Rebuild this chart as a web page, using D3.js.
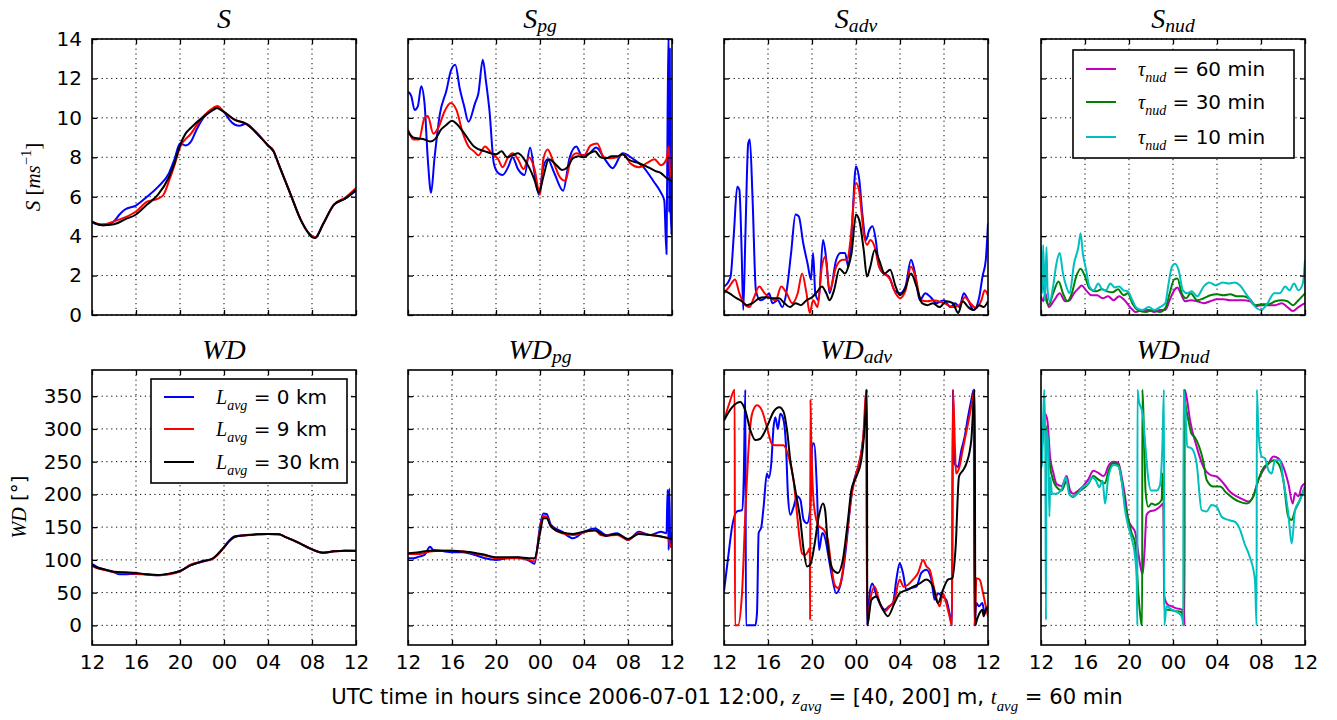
<!DOCTYPE html>
<html>
<head>
<meta charset="utf-8">
<script src="https://cdn.jsdelivr.net/npm/d3@7"></script>
<style>
  body { margin: 0; background: #fff; }
  svg { display: block; }
</style>
</head>
<body>
<svg id="chart" width="1337" height="720"></svg>
<script>
// x axis: hours since 2006-07-01 12:00
var hourTicks = [0, 4, 8, 12, 16, 20, 24];
var hourLabels = ["12", "16", "20", "00", "04", "08", "12"];
var speedTicks = [0, 2, 4, 6, 8, 10, 12, 14];
var dirTicks = [0, 50, 100, 150, 200, 250, 300, 350];

var titleBase = ["S", "S", "S", "S", "WD", "WD", "WD", "WD"];
var titleSub = ["", "pg", "adv", "nud", "", "pg", "adv", "nud"];

var lavgLabels = ["0 km", "9 km", "30 km"];
var tauLabels = ["60 min", "30 min", "10 min"];

// ---- S ----
var sBlue = [[0,4.7],[0.5,4.6],[1,4.55],[1.5,4.6],[2,4.75],[2.5,5.1],[3,5.35],[4,5.55],[5,6.0],[6,6.5],[7,7.2],[7.5,7.9],[8,8.7],[8.5,8.6],[9,8.8],[9.5,9.4],[10,9.9],[11,10.4],[11.4,10.5],[12,10.3],[12.5,9.9],[13,9.65],[13.4,9.6],[14,9.7],[15,9.2],[16,8.6],[16.5,8.3],[17,7.6],[18,6.2],[19,4.8],[19.5,4.3],[20,4.0],[20.3,3.95],[21,4.6],[22,5.6],[23,5.9],[24,6.3]];
var sRed = [[0,4.7],[1,4.6],[2,4.75],[3,4.95],[4,5.25],[5,5.75],[6,5.9],[6.5,6.1],[7,6.8],[7.5,7.6],[8,8.5],[9,9.2],[10,10],[11,10.5],[11.4,10.6],[12,10.3],[13,9.9],[14,9.7],[15,9.25],[16,8.6],[16.5,8.35],[17,7.6],[18,6.2],[19,4.8],[19.5,4.3],[20,4.0],[20.3,3.95],[21,4.6],[22,5.6],[23,5.95],[24,6.45]];
var sBlack = [[0,4.75],[0.5,4.6],[1,4.55],[2,4.6],[3,4.85],[4,5.1],[5,5.6],[6,6.1],[7,7.0],[7.5,7.7],[8,8.6],[8.5,9.2],[9,9.5],[10,10.0],[11,10.4],[11.3,10.5],[12,10.3],[13,9.9],[14,9.7],[15,9.2],[16,8.6],[16.5,8.3],[17,7.6],[18,6.2],[19,4.8],[19.5,4.3],[20,3.95],[20.3,3.9],[21,4.6],[22,5.6],[23,5.9],[24,6.35]];

// ---- S_pg ----
var spBlue = [[0,11.33],[0.3,11.1],[0.6,10.4],[0.9,10.6],[1.2,11.6],[1.5,10.75],[1.8,7.9],[2.1,6.2],[2.4,7.9],[2.9,10.2],[3.5,11.4],[3.9,12.4],[4.3,12.7],[4.7,11.5],[5.1,10.6],[5.5,9.8],[6.1,10.75],[6.4,11.25],[6.8,12.95],[7.1,11.8],[7.4,10.4],[7.8,7.7],[8.2,7.2],[8.6,7.1],[9.1,7.5],[9.5,8.0],[10,7.4],[10.6,7.1],[11.1,8.5],[11.5,7.2],[11.9,6.1],[12.3,7.5],[12.7,7.9],[13.3,7.2],[14.1,6.3],[14.7,8.0],[15.3,8.55],[15.8,8.1],[16.5,8.2],[17.1,8.5],[17.9,7.9],[18.6,7.45],[19.5,8.2],[20.5,7.9],[21.4,7.5],[22.3,6.8],[23,6.2],[23.3,5.8],[23.5,3.1],[23.6,10.2],[23.7,14.5],[23.75,5.2],[23.8,13.5],[23.85,6.2],[23.95,4.1],[24,7.5]];
var spRed = [[0,9.4],[0.5,8.9],[1,8.9],[1.5,10],[1.8,10.1],[2.3,9.2],[2.8,9.55],[3.3,10.3],[3.9,10.75],[4.4,10.4],[5,9.2],[5.5,8.55],[6,8.3],[6.4,8.1],[7,8.55],[7.6,8.2],[8.2,7.9],[8.6,7.5],[9.1,8.0],[9.5,8.2],[10,7.9],[10.5,7.4],[11,8.0],[11.5,7.4],[12,6.1],[12.3,7.9],[12.7,8.4],[13.2,7.8],[13.8,7.0],[14.3,6.8],[14.8,7.9],[15.3,8.2],[16,8.1],[16.6,8.6],[17.2,8.7],[17.8,8.0],[18.3,7.95],[19,8.0],[19.6,8.15],[20.2,7.7],[21,7.5],[21.7,7.7],[22.4,7.9],[23,7.6],[23.5,7.9],[23.7,8.55],[23.85,7.0],[24,7.5]];
var spBlack = [[0,9.3],[0.5,9.0],[1,8.95],[1.5,8.9],[2,8.8],[2.5,8.95],[3,9.4],[3.5,9.65],[4,9.85],[4.5,9.65],[5,9.3],[6,8.55],[7,8.3],[8,8.15],[8.5,8.3],[9,8.0],[9.5,8.1],[10,8.2],[10.5,7.95],[11,7.5],[11.5,6.85],[11.9,6.2],[12.3,7.0],[12.8,7.9],[13.5,7.6],[14,7.35],[14.5,7.5],[15,7.95],[15.5,8.05],[16,8.0],[16.5,8.2],[17,8.3],[17.5,8.0],[18,7.95],[18.5,8.05],[19,8.05],[19.5,8.15],[20,7.9],[21,7.7],[22,7.45],[22.5,7.3],[23,7.2],[23.5,6.95],[24,6.8]];

// ---- S_adv ----
var saBlue = [[0,1.45],[0.3,1.6],[0.6,1.95],[0.9,4.15],[1.2,6.5],[1.4,6.35],[1.6,3.3],[1.75,0.25],[1.95,4.15],[2.2,8.7],[2.35,8.9],[2.6,5.85],[2.9,1.25],[3.3,0.75],[3.8,0.9],[4.1,1.1],[4.4,0.6],[4.9,0.75],[5.3,0.4],[5.7,1.25],[6.1,3.15],[6.5,5.1],[6.8,5.0],[7.2,3.65],[7.6,2.6],[7.9,1.8],[8.1,3.15],[8.3,1.1],[8.6,0.75],[9.0,3.8],[9.3,2.8],[9.6,1.1],[10.2,2.8],[10.6,3.15],[11.0,3.15],[11.3,2.45],[11.6,4.15],[12.0,7.55],[12.3,6.85],[12.6,5.0],[12.9,3.8],[13.2,4.3],[13.5,4.5],[13.8,3.8],[14.1,2.45],[14.5,2.1],[15.0,1.95],[15.5,1.25],[16.0,1.1],[16.5,1.45],[17.0,2.8],[17.3,2.3],[17.8,0.75],[18.3,1.1],[18.8,0.9],[19.3,0.6],[20,0.75],[20.6,0.4],[21,0.6],[21.4,0.4],[21.8,1.1],[22.2,0.75],[22.7,0.25],[23.2,0.9],[23.5,1.95],[23.8,2.8],[24,4.65]];
var saRed = [[0,1.1],[0.5,1.45],[1.0,1.8],[1.4,1.1],[1.8,0.6],[2.3,0.4],[2.7,0.85],[3.2,1.45],[3.7,1.1],[4.1,0.9],[4.7,0.75],[5.2,1.45],[5.7,1.1],[6.2,0.6],[6.7,1.1],[7.1,2.1],[7.5,1.1],[7.8,0.1],[8.1,0.75],[8.5,0.4],[8.9,2.45],[9.2,2.95],[9.6,1.25],[10.2,2.45],[10.8,2.8],[11.2,2.8],[11.5,3.8],[12.0,6.7],[12.3,6.25],[12.7,4.15],[13.0,3.55],[13.3,3.8],[13.7,3.45],[14.1,2.45],[14.6,2.1],[15.1,1.8],[15.6,1.1],[16.0,0.85],[16.5,1.25],[17.0,2.45],[17.4,1.95],[17.9,0.75],[18.5,0.7],[19,0.75],[20,0.6],[20.8,0.4],[21.4,0.5],[21.9,0.9],[22.4,0.6],[22.9,0.35],[23.4,0.75],[23.7,1.25],[24,1.0]];
var saBlack = [[0,1.25],[0.5,1.1],[1.0,0.9],[1.6,0.7],[2.1,0.5],[2.6,0.6],[3.2,0.85],[3.8,0.9],[4.4,0.85],[5.0,0.85],[5.5,0.6],[6.0,0.4],[6.5,0.6],[7.0,0.5],[7.5,0.75],[8.0,0.9],[8.5,1.2],[8.9,1.45],[9.3,1.1],[9.6,0.75],[10.0,1.25],[10.5,2.35],[11.0,2.1],[11.3,2.45],[11.6,3.15],[12.0,5.1],[12.3,4.8],[12.7,3.3],[13.0,1.95],[13.3,2.45],[13.7,3.3],[14.1,2.8],[14.6,2.1],[15.1,2.3],[15.6,1.45],[16.0,1.0],[16.4,1.25],[17.0,2.1],[17.5,1.45],[18.0,0.6],[18.5,0.5],[19,0.6],[19.6,0.4],[20.2,0.7],[20.8,0.6],[21.3,0.1],[21.7,0.7],[22.2,0.4],[22.7,0.25],[23.2,0.5],[23.6,0.4],[24,0.7]];

// ---- S_nud ----
var snM = [[0,0.95],[0.2,0.7],[0.4,1.1],[0.7,0.4],[1.2,0.75],[1.7,1.1],[2.2,0.7],[2.6,0.75],[3.0,1.1],[3.4,1.35],[3.7,1.5],[4.1,1.25],[4.6,1.0],[5.1,1.0],[5.6,0.85],[6.1,0.95],[6.6,0.75],[7.1,0.95],[7.6,0.75],[8.1,0.4],[8.6,0.15],[9.2,0.25],[9.8,0.25],[10.3,0.15],[10.8,0.25],[11.3,0.25],[11.7,0.75],[12.1,1.25],[12.4,1.4],[12.7,1.1],[13.1,0.7],[13.6,0.75],[14.2,0.7],[14.8,0.6],[15.4,0.7],[16.0,0.8],[16.6,0.8],[17.2,0.75],[17.8,0.75],[18.4,0.75],[19,0.7],[19.5,0.45],[20.1,0.5],[20.7,0.5],[21.3,0.5],[21.9,0.6],[22.4,0.4],[22.9,0.2],[23.4,0.4],[24,0.6]];
var snG = [[0,1.25],[0.2,1.5],[0.4,0.9],[0.7,0.5],[1.1,1.1],[1.6,1.7],[2.0,1.1],[2.4,0.7],[2.8,1.1],[3.2,1.95],[3.6,2.35],[4.0,1.95],[4.4,1.35],[5.0,1.2],[5.5,1.3],[6.0,1.2],[6.5,1.15],[7.0,1.3],[7.5,1.0],[7.9,1.1],[8.3,0.6],[8.8,0.25],[9.5,0.15],[10.2,0.25],[10.8,0.15],[11.3,0.35],[11.7,1.1],[12.1,1.8],[12.4,1.85],[12.8,1.1],[13.2,0.85],[13.6,1.1],[14.2,0.75],[14.8,0.85],[15.4,1.0],[16.0,1.05],[16.6,1.0],[17.2,1.05],[17.8,0.95],[18.4,0.95],[19,0.8],[19.5,0.5],[20.1,0.55],[20.7,0.55],[21.3,0.7],[21.9,0.75],[22.4,0.7],[22.9,0.5],[23.4,0.75],[24,1.1]];
var snC = [[0,3.45],[0.1,1.1],[0.2,3.55],[0.35,0.75],[0.5,3.45],[0.6,1.25],[0.8,0.7],[1.1,1.45],[1.4,2.6],[1.7,3.15],[2.0,2.1],[2.3,1.45],[2.6,1.1],[3.0,2.6],[3.4,3.45],[3.6,4.15],[3.8,3.15],[4.1,2.3],[4.4,1.45],[4.8,1.25],[5.2,1.6],[5.5,1.35],[5.9,1.25],[6.3,1.6],[6.7,1.4],[7.1,1.45],[7.5,1.25],[7.9,1.2],[8.3,0.75],[8.7,0.35],[9.2,0.25],[9.8,0.4],[10.3,0.25],[10.8,0.4],[11.3,0.6],[11.6,1.6],[11.9,2.45],[12.2,2.6],[12.5,2.3],[12.9,1.25],[13.3,1.1],[13.7,1.2],[14.2,0.95],[14.8,1.45],[15.3,1.65],[15.9,1.5],[16.5,1.65],[17.1,1.6],[17.6,1.65],[18.1,1.5],[18.6,1.1],[19.1,0.7],[19.5,0.4],[20.0,0.25],[20.6,0.6],[21.2,1.1],[21.7,1.1],[22.2,1.45],[22.6,1.25],[23.0,1.6],[23.4,1.25],[23.8,1.6],[24,2.8]];

// ---- WD ----
var wdBlue = [[0,94],[0.5,89],[1,86],[2,81],[2.5,78],[3,78],[4,78.5],[5,77.5],[6,76.5],[7,78.5],[8,83],[9,92],[10,98],[11,102],[11.5,110],[12,120],[12.5,130],[13,136],[14,138],[15,139],[16,139.5],[17,139],[17.5,135.5],[18,132],[19,124],[20,116],[21,111],[22,113],[23,114],[24,113.5]];
var wdRed = [[0,91],[0.5,87],[1,85],[2,81.5],[3,80],[4,79],[5,77.5],[6,76.5],[7,78],[8,82],[9,93],[10,97],[11,102],[11.5,109],[12,119],[12.5,129],[13,135],[14,137.5],[15,139],[16,139.5],[17,139],[17.5,135.5],[18,132],[19,124.5],[20,116],[21,111],[22,113],[23,114],[24,114]];
var wdBlack = [[0,92.5],[0.5,88],[1,86],[2,82],[3,81],[4,80],[5,78],[6,77],[7,79],[8,83],[9,92],[10,97.5],[11,102.5],[11.5,110],[12,119],[12.5,129],[13,135.6],[14,137.7],[15,139],[16,139.7],[17,139],[17.5,135.6],[18,132],[19,124.5],[20,116],[21,111],[22,113],[23,114],[24,113.8]];

// ---- WD_pg ----
var wpBlue = [[0,102.6],[0.5,102.6],[1,105],[1.5,107.7],[2,120],[2.3,115],[3,113.8],[4,111.8],[5,111.8],[6,107.7],[7,102.6],[8,100],[9,102.6],[10,103.6],[11,99],[11.5,94],[12,151],[12.3,171],[12.6,170],[13,153.4],[14,143],[15,133],[16,143],[17,148],[17.5,143],[18,138],[19,140.7],[20,130.5],[21,143],[22,138],[23,143],[23.5,140.7],[23.6,206.7],[23.7,115],[23.75,209],[23.85,120],[23.95,141],[24,125]];
var wpRed = [[0,109],[1,109],[2,112.8],[3,113.8],[4,113.8],[5,112.8],[6,110],[7,106.7],[8,102.6],[9,102.6],[10,102.6],[11,100],[11.5,97.5],[12,145.8],[12.3,167],[12.6,166],[13,151],[14,140.7],[15,138],[16,142],[17,145.8],[17.5,138],[18,137],[19,138],[20,130.5],[21,140.7],[22,138],[23,135.6],[23.7,133],[23.85,120],[24,125]];
var wpBlack = [[0,110],[1,111.8],[2,114],[3,113.8],[4,113.8],[5,112.8],[6,111],[7,107.7],[8,104],[9,104],[10,104],[11,102.6],[11.5,102.6],[12,140.7],[12.3,163.6],[12.6,163.6],[13,151],[14,141.7],[15,139.7],[16,143],[17,144.8],[17.5,140.7],[18,136.6],[19,139.7],[20,132],[21,139.7],[22,138],[23,135.6],[24,131.6]];

// ---- WD_adv ----
var waBlue = [[0,52],[0.42,110],[0.73,150],[1.18,174],[1.64,176],[1.79,221],[1.94,360],[2.0,0],[2.85,0],[3.0,19],[3.15,141],[3.39,150],[3.6,181],[3.9,232],[4.06,225],[4.3,248],[4.5,302],[4.67,318],[4.9,300],[5.12,323],[5.42,313],[5.64,272],[5.82,197],[6.03,169],[6.33,181],[6.64,197],[6.94,192],[7.24,161],[7.55,156],[7.85,181],[8.0,272],[8.18,278],[8.45,207],[8.64,115],[8.94,141],[9.24,130],[9.45,110],[9.76,80],[10.2,49],[10.5,57],[10.8,80],[11.1,120],[11.4,171],[11.7,212],[12.2,242],[12.48,263],[12.79,313],[12.94,360],[13.0,0],[13.24,49],[13.48,64],[13.79,49],[14.15,34],[14.6,24],[15.0,29],[15.36,34],[15.67,70],[15.97,95],[16.27,80],[16.58,54],[17.03,57],[17.48,59],[17.94,80],[18.39,85],[18.85,70],[19.15,39],[19.45,49],[19.85,44],[20.2,39],[20.5,19],[20.73,0],[20.8,360],[20.97,247],[21.27,242],[21.58,268],[21.88,288],[22.18,318],[22.48,344],[22.7,360],[22.76,0],[22.94,34],[23.18,29],[23.48,34],[23.7,19],[24,29]];
var waRed = [[0,313],[0.5,340],[0.97,360],[1.0,0],[1.27,0],[1.64,50],[1.94,170],[2.24,272],[2.55,323],[3.0,336],[3.45,328],[3.9,303],[4.36,277],[4.67,275],[5.4,275],[5.88,257],[6.33,221],[6.64,170],[6.85,136],[7.09,110],[7.4,108],[7.64,113],[7.8,118],[7.83,8],[7.86,345],[7.92,290],[8.2,180],[8.6,152],[9.06,146],[9.45,130],[9.76,90],[10.06,62],[10.36,57],[10.67,70],[11.12,130],[11.58,197],[11.88,222],[12.33,252],[12.64,283],[12.94,360],[13.03,0],[13.3,39],[13.7,59],[14.15,34],[14.6,21],[15.06,29],[15.5,39],[15.97,70],[16.33,59],[16.73,62],[17.18,70],[17.64,80],[18.1,100],[18.4,90],[18.7,85],[19.0,64],[19.36,39],[19.6,29],[19.9,49],[20.2,34],[20.5,14],[20.73,0],[20.82,360],[21.0,268],[21.1,232],[21.4,242],[21.7,268],[22.0,293],[22.3,318],[22.6,345],[22.78,360],[22.8,0],[22.94,72],[23.24,70],[23.55,49],[23.8,29],[24,14]];
var waBlack = [[0,313],[0.73,333],[1.48,341],[1.94,328],[2.4,298],[2.85,283],[3.3,285],[3.9,303],[4.5,326],[5.03,333],[5.42,326],[5.73,298],[6.03,252],[6.33,221],[6.64,192],[6.94,161],[7.24,115],[7.55,90],[7.85,93],[8.2,120],[8.6,165],[9.0,186],[9.2,175],[9.45,120],[9.9,85],[10.36,80],[10.8,100],[11.27,161],[11.58,207],[12.03,227],[12.48,252],[12.79,303],[13.0,360],[13.02,0],[13.4,39],[13.85,44],[14.3,29],[14.9,14],[15.5,34],[15.97,49],[16.6,54],[17.2,59],[17.8,64],[18.4,70],[19.0,59],[19.45,34],[19.9,54],[20.36,70],[20.76,72],[21.06,120],[21.36,227],[21.73,237],[22.03,247],[22.48,283],[22.79,360],[22.85,0],[23.0,9],[23.24,19],[23.48,24],[23.6,14],[23.8,24],[24,29]];

// ---- WD_nud ----
var wnM = [[0,280],[0.15,302],[0.36,323],[0.58,313],[0.82,258],[1.12,233],[1.42,216],[1.88,213],[2.33,228],[2.64,206],[2.94,201],[3.39,206],[3.85,213],[4.3,223],[4.76,236],[5.2,233],[5.67,228],[5.82,230],[6.12,243],[6.58,250],[7.03,248],[7.33,227],[7.64,197],[7.94,161],[8.24,151],[8.55,143],[8.85,110],[9.1,85],[9.24,78],[9.4,110],[9.6,169],[9.9,174],[10.36,176],[10.8,181],[11.12,186],[11.2,45],[11.5,32],[11.88,29],[12.33,26],[12.8,24],[13.0,20],[13.05,0],[13.06,360],[13.24,348],[13.55,313],[14.15,273],[14.76,242],[15.36,230],[15.97,227],[16.58,217],[17.18,204],[17.79,197],[18.39,192],[18.85,189],[19.3,197],[19.76,222],[20.2,237],[20.67,247],[21.12,258],[21.58,255],[22.03,242],[22.48,217],[22.88,186],[23.1,202],[23.39,197],[23.7,212],[24,217]];
var wnG = [[0,250],[0.15,282],[0.36,308],[0.58,287],[0.82,243],[1.12,221],[1.42,211],[1.88,206],[2.33,221],[2.64,199],[2.94,196],[3.39,204],[3.85,209],[4.3,216],[4.76,228],[5.2,223],[5.67,218],[5.82,217],[6.12,235],[6.58,248],[7.03,245],[7.33,221],[7.64,186],[7.94,161],[8.24,141],[8.55,126],[8.7,90],[8.85,49],[9.0,19],[9.15,1],[9.2,0],[9.21,360],[9.3,330],[9.4,272],[9.5,206],[9.75,181],[10.06,186],[10.36,184],[10.67,186],[10.97,192],[11.05,232],[11.15,200],[11.2,24],[11.6,24],[12.2,22],[12.8,20],[12.97,0],[13.0,360],[13.09,343],[13.4,313],[13.7,292],[14.0,287],[14.4,272],[14.76,250],[15.06,222],[15.67,212],[16.27,212],[16.88,202],[17.48,194],[18.03,189],[18.7,186],[19.3,197],[19.76,222],[20.2,240],[20.67,247],[21.12,252],[21.58,247],[22.03,222],[22.48,166],[22.79,161],[23.1,176],[23.39,186],[24,212]];
var wnC = [[0,240],[0.09,247],[0.21,323],[0.3,360],[0.39,272],[0.45,8],[0.51,298],[0.67,272],[0.76,166],[0.85,226],[1.0,201],[1.36,201],[1.82,206],[2.27,226],[2.57,200],[2.88,197],[3.33,201],[3.78,211],[4.24,216],[4.69,226],[5.0,221],[5.3,211],[5.6,221],[5.82,186],[6.12,226],[6.58,245],[7.03,243],[7.33,221],[7.64,176],[7.94,151],[8.24,133],[8.55,105],[8.7,70],[8.76,0],[8.77,360],[8.9,343],[9.24,323],[9.5,272],[9.7,232],[10.0,206],[10.5,206],[10.8,213],[11.03,272],[11.18,360],[11.2,0],[11.42,29],[11.88,24],[12.5,19],[12.85,11],[12.95,0],[12.96,360],[13.09,340],[13.3,273],[13.7,270],[14.15,247],[14.6,176],[15.06,174],[15.5,184],[15.97,181],[16.42,166],[17.03,161],[17.64,158],[18.1,146],[18.5,125],[18.97,105],[19.45,70],[19.6,0],[19.62,360],[19.76,298],[20.06,258],[20.36,255],[20.67,237],[20.97,232],[21.27,252],[21.73,252],[22.03,222],[22.48,171],[22.79,125],[23.1,176],[23.55,192],[24,212]];

var lavgColors = ["#0000ff", "#ff0000", "#000000"];
var tauColors = ["#bf00bf", "#008000", "#00bfbf"];

var panels = [
  { series: [sBlue, sRed, sBlack], colors: lavgColors },
  { series: [spBlue, spRed, spBlack], colors: lavgColors },
  { series: [saBlue, saRed, saBlack], colors: lavgColors },
  { series: [snM, snG, snC], colors: tauColors },
  { series: [wdBlue, wdRed, wdBlack], colors: lavgColors },
  { series: [wpBlue, wpRed, wpBlack], colors: lavgColors },
  { series: [waBlue, waRed, waBlack], colors: lavgColors },
  { series: [wnM, wnG, wnC], colors: tauColors }
];

var svg = d3.select("#chart");
var lefts = [92, 408, 724, 1041];
var pw = 264;
var rows = [{ top: 39, h: 276 }, { top: 370, h: 275 }];

var mathFont = "'Liberation Serif', 'DejaVu Serif', serif";
var sansFont = "'DejaVu Sans', sans-serif";

// writes mixed italic / sub / sup text into a <text>
function addParts(textSel, parts, size, subDrop) {
  var shift = 0;
  var drop = subDrop == null ? size * 0.32 : subDrop;
  parts.forEach(function(p) {
    var target = p.sub ? drop : (p.sup ? -size * 0.42 : 0);
    textSel.append("tspan").text(p.t)
      .attr("dy", target - shift)
      .attr("font-family", p.math ? mathFont : sansFont)
      .attr("font-style", p.math && !p.upright ? "italic" : "normal")
      .attr("font-size", (p.sub || p.sup) ? size * 0.7 : size);
    shift = target;
  });
}

var x = d3.scaleLinear().domain([0, 24]);

panels.forEach(function(p, i) {
  var row = Math.floor(i / 4), col = i % 4;
  var left = lefts[col], top = rows[row].top, h = rows[row].h;
  var g = svg.append("g").attr("transform", "translate(" + left + "," + top + ")");
  var xs = x.copy().range([0, pw]);
  var ys = row == 0 ? d3.scaleLinear().domain([0, 14]).range([h, 0])
                    : d3.scaleLinear().domain([-30, 390]).range([h, 0]);
  var yTicks = row == 0 ? speedTicks : dirTicks;

  g.append("clipPath").attr("id", "clip" + i)
    .append("rect").attr("width", pw).attr("height", h);

  // dotted grid
  g.append("g").selectAll("line").data(hourTicks.slice(1, -1)).join("line")
    .attr("x1", d => xs(d)).attr("x2", d => xs(d)).attr("y1", 0).attr("y2", h)
    .attr("stroke", "#000").attr("stroke-width", 1).attr("stroke-dasharray", "1.2,3.6");
  g.append("g").selectAll("line").data(yTicks).join("line")
    .attr("y1", d => ys(d)).attr("y2", d => ys(d)).attr("x1", 0).attr("x2", pw)
    .attr("stroke", "#000").attr("stroke-width", 1).attr("stroke-dasharray", "1.2,3.6");

  var line = d3.line().x(d => xs(d[0])).y(d => ys(d[1])).curve(d3.curveMonotoneX);
  var lg = g.append("g").attr("clip-path", "url(#clip" + i + ")");
  p.series.forEach(function(s, k) {
    lg.append("path").datum(s).attr("d", line)
      .attr("fill", "none").attr("stroke", p.colors[k])
      .attr("stroke-width", 2).attr("stroke-linejoin", "round");
  });

  // axes with inward ticks on every side
  var axB = d3.axisBottom(xs).tickValues(hourTicks).tickSize(-5).tickPadding(10)
    .tickFormat((d, j) => row == 1 ? hourLabels[j] : "");
  var axT = d3.axisTop(xs).tickValues(hourTicks).tickSize(-5).tickFormat("");
  var axL = d3.axisLeft(ys).tickValues(yTicks).tickSize(-5).tickPadding(10)
    .tickFormat(d => col == 0 ? d : "");
  var axR = d3.axisRight(ys).tickValues(yTicks).tickSize(-5).tickFormat("");
  [[axB, "translate(0," + h + ")"], [axT, null], [axL, null], [axR, "translate(" + pw + ",0)"]].forEach(function(a) {
    var ag = g.append("g").call(a[0]);
    if (a[1]) ag.attr("transform", a[1]);
    ag.select(".domain").remove();
    ag.selectAll(".tick line").attr("stroke", "#000").attr("stroke-width", 1.3);
    ag.selectAll("text").attr("font-family", sansFont).attr("font-size", 20).attr("fill", "#000");
  });

  g.append("rect").attr("width", pw).attr("height", h)
    .attr("fill", "none").attr("stroke", "#000").attr("stroke-width", 1.6);

  // title
  var t = g.append("text").attr("x", pw / 2).attr("y", -11).attr("text-anchor", "middle");
  var tp = [{ t: titleBase[i], math: true }];
  if (titleSub[i]) tp.push({ t: titleSub[i], math: true, sub: true });
  addParts(t, tp, 28, 4);

  p.g = g;
});

// y labels
var yl1 = svg.append("text").attr("transform", "translate(40,177) rotate(-90)").attr("text-anchor", "middle");
addParts(yl1, [
  { t: "S", math: true }, { t: " [", math: true, upright: true }, { t: "ms", math: true },
  { t: "\u22121", math: true, upright: true, sup: true }, { t: "]", math: true, upright: true }
], 21);

var yl2 = svg.append("text").attr("transform", "translate(26,507) rotate(-90)").attr("text-anchor", "middle");
addParts(yl2, [{ t: "WD", math: true }, { t: " [\u00b0]", math: false }], 20);

// legends
function legend(g, lx, ly, w, hgt, labels, colors, sym, rowY) {
  var lgd = g.append("g").attr("transform", "translate(" + lx + "," + ly + ")");
  lgd.append("rect").attr("width", w).attr("height", hgt)
    .attr("fill", "#fff").attr("stroke", "#000").attr("stroke-width", 1.6);
  labels.forEach(function(lab, k) {
    var yy = rowY[k];
    lgd.append("line").attr("x1", 13).attr("x2", 43).attr("y1", yy).attr("y2", yy)
      .attr("stroke", colors[k]).attr("stroke-width", 2);
    var tx = lgd.append("text").attr("x", 65).attr("y", yy + 7);
    addParts(tx, [{ t: sym[0], math: true }, { t: sym[1], math: true, sub: true }, { t: " = " + lab, math: false }], 20);
  });
}
legend(panels[4].g, 59, 9, 196, 104, lavgLabels, lavgColors, ["L", "avg"], [18, 50, 83]);
legend(panels[3].g, 32, 11, 221, 108, tauLabels, tauColors, ["\u03c4", "nud"], [19, 52, 87]);

// x label, squeezed to the width seen in the figure
var xl = svg.append("text").attr("text-anchor", "middle");
addParts(xl, [
  { t: "UTC time in hours since 2006-07-01 12:00, ", math: false },
  { t: "z", math: true }, { t: "avg", math: true, sub: true },
  { t: " = [40, 200] m, ", math: false },
  { t: "t", math: true }, { t: "avg", math: true, sub: true },
  { t: " = 60 min", math: false }
], 21);
var bw = xl.node().getBBox().width;
xl.attr("transform", "translate(727,704) scale(" + (792 / bw) + ",1)");
</script>
</body>
</html>
